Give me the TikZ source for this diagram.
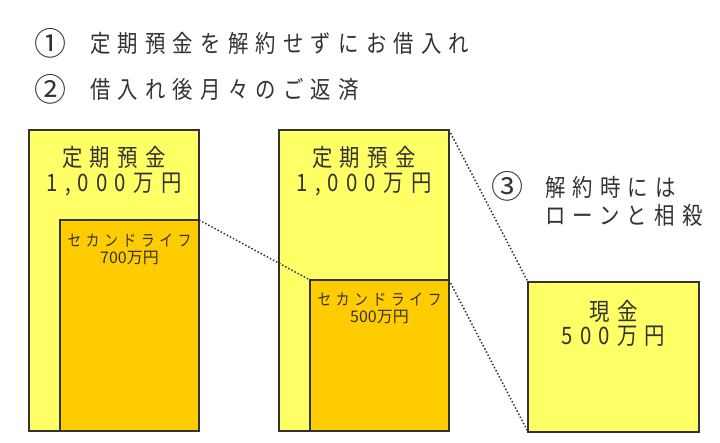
\documentclass[tikz,border=0pt]{standalone}
\usepackage{fontspec}
\usepackage{xcolor}
\usetikzlibrary{positioning}
\setmainfont{Noto Sans CJK JP}
\newfontfamily\jp{Noto Sans CJK JP}
\newfontfamily\jpwide[FakeStretch=0.85,LetterSpace=30]{Noto Sans CJK JP}
\definecolor{inkgray}{HTML}{333333}
\definecolor{padyellow}{HTML}{FFFF66}
\definecolor{padorange}{HTML}{FFCC00}

\begin{document}
\begin{tikzpicture}[
  x=1pt, y=-1pt,
  acct/.style={draw=inkgray, line width=2pt, inner sep=0pt, outer sep=0pt,
    anchor=north west},
  deposit/.style={acct, fill=padyellow},
  loan/.style={acct, fill=padorange},
  link/.style={draw=inkgray, line width=1.5pt, dotted},
  heading/.style={text=inkgray, inner sep=0pt, anchor=west,
    font=\jpwide\fontsize{24}{28}\selectfont},
  circnum/.style={text=inkgray, inner sep=0pt, anchor=west,
    font=\jp\fontsize{32}{34}\selectfont},
  amount/.style={text=inkgray, inner sep=0pt, align=center,
    font=\jpwide\fontsize{24}{24.5}\selectfont},
  subamount/.style={text=inkgray, inner sep=0pt, align=center,
    font=\jp\fontsize{16}{17}\selectfont}
]
\useasboundingbox (0,0) rectangle (720,443);

\node[circnum] (numA) at (34,43) {①};
\node[heading] (lineA) at (90,43) {定期預金を解約せずにお借入れ};
\node[circnum] (numB) at (34,89) {②};
\node[heading] (lineB) at (90,89) {借入れ後月々のご返済};

\node[deposit, minimum width=170pt, minimum height=301pt] (deposit1)
  at (29,130) {};
\node[loan, minimum width=139pt, minimum height=211pt] (loan1)
  at (60,220) {};
\node[deposit, minimum width=170pt, minimum height=301pt] (deposit2)
  at (279,130) {};
\node[loan, minimum width=139pt, minimum height=151pt] (loan2)
  at (310,280) {};
\node[deposit, minimum width=171pt, minimum height=150pt] (cash)
  at (528,282) {};

\node[amount, below=41pt of deposit1.north, anchor=center] (depositText1)
  {定期預金\\1,000万円};
\node[subamount, below=29.5pt of loan1.north, anchor=center] (loanText1)
  {{\jpwide セカンドライフ}\\700万円};
\node[amount, below=41pt of deposit2.north, anchor=center] (depositText2)
  {定期預金\\1,000万円};
\node[subamount, below=28.5pt of loan2.north, anchor=center] (loanText2)
  {{\jpwide セカンドライフ}\\500万円};
\node[amount, below=41.5pt of cash.north, anchor=center] (cashText)
  {現金\\500万円};

\node[circnum] (numC) at (491,186) {③};
\node[heading, align=left] (lineC) at (545,201) {解約時には\\ローンと相殺};

\draw[link] (loan1.north east) -- (loan2.north west);
\draw[link] (deposit2.north east) -- (cash.north west);
\draw[link] (loan2.north east) -- (cash.south west);
\end{tikzpicture}
\end{document}
